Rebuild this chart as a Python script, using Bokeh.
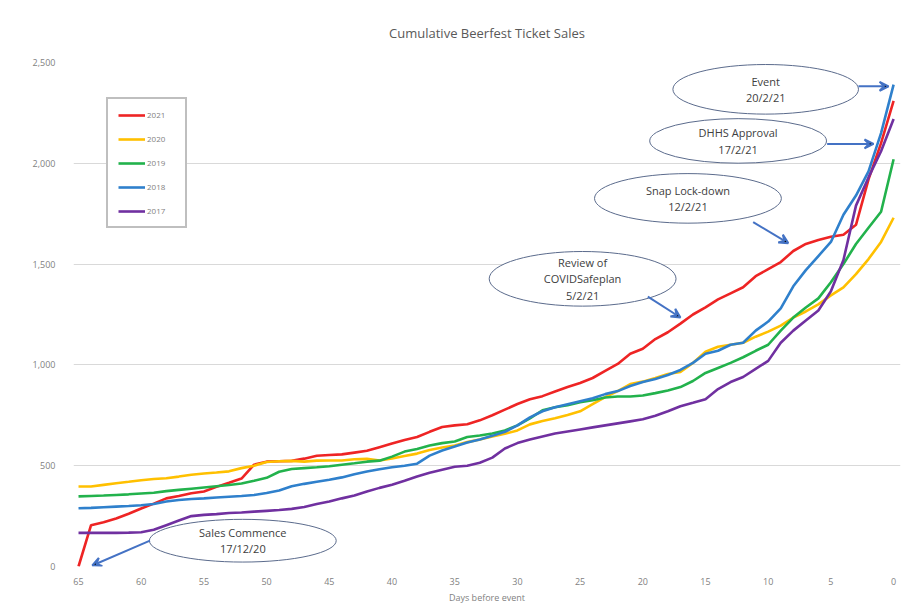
from bokeh.plotting import figure
from bokeh.models import Range1d, Legend, LegendItem, Arrow, VeeHead, FixedTicker, NumeralTickFormatter
from bokeh.core.properties import value
from bokeh.embed import file_html
from bokeh.resources import INLINE

days = list(range(65, -1, -1))

sales_2021 = [0, 205, 220, 238, 262, 288, 312, 338, 350, 363, 372, 395, 415, 436, 505, 520,
              522, 524, 535, 549, 553, 556, 565, 574, 592, 610, 628, 642, 668, 692, 700, 706,
              725, 750, 778, 806, 830, 845, 868, 890, 910, 935, 970, 1005, 1055, 1080, 1128,
              1162, 1205, 1250, 1285, 1325, 1355, 1385, 1440, 1475, 1510, 1565, 1600, 1620,
              1636, 1646, 1695, 1920, 2100, 2310]
sales_2020 = [397, 397, 405, 413, 420, 428, 434, 438, 446, 455, 461, 466, 472, 488, 500, 518,
              522, 524, 520, 525, 526, 526, 532, 534, 526, 536, 548, 560, 578, 590, 600, 617,
              630, 645, 658, 675, 705, 722, 735, 752, 770, 805, 840, 870, 905, 917, 935, 955,
              965, 1010, 1065, 1090, 1100, 1110, 1140, 1165, 1195, 1235, 1265, 1300, 1345,
              1385, 1450, 1525, 1610, 1730]
sales_2019 = [348, 350, 352, 355, 358, 362, 366, 374, 380, 386, 392, 398, 404, 412, 425, 440,
              470, 484, 488, 492, 497, 505, 512, 520, 525, 545, 570, 583, 600, 612, 620, 642,
              650, 660, 675, 700, 735, 775, 790, 800, 815, 825, 838, 843, 843, 848, 860, 873,
              890, 920, 960, 985, 1010, 1038, 1070, 1100, 1170, 1235, 1285, 1330, 1410, 1500,
              1600, 1680, 1760, 2020]
sales_2018 = [289, 291, 294, 297, 300, 304, 310, 322, 330, 335, 338, 342, 346, 350, 355, 365,
              377, 398, 410, 420, 430, 442, 458, 471, 482, 492, 500, 510, 550, 575, 595, 615,
              630, 648, 668, 700, 740, 770, 790, 805, 820, 835, 855, 870, 895, 915, 930, 950,
              975, 1010, 1055, 1070, 1100, 1110, 1170, 1215, 1280, 1390, 1470, 1540, 1610,
              1745, 1840, 1960, 2150, 2390]
sales_2017 = [167, 167, 167, 167, 168, 170, 182, 205, 228, 250, 256, 260, 265, 268, 272, 276,
              280, 286, 295, 310, 322, 338, 352, 372, 390, 405, 425, 446, 465, 480, 495, 500,
              515, 540, 585, 612, 630, 645, 660, 670, 680, 690, 700, 710, 720, 730, 748, 770,
              795, 812, 830, 880, 915, 940, 980, 1020, 1110, 1170, 1220, 1270, 1365, 1520,
              1790, 1930, 2060, 2220]

series_names = ["2021", "2020", "2019", "2018", "2017"]
series_values = [sales_2021, sales_2020, sales_2019, sales_2018, sales_2017]
series_colors = ["#EE2424", "#FFC000", "#22B24C", "#2F80CC", "#7030A0"]

x_ticks = [65, 60, 55, 50, 45, 40, 35, 30, 25, 20, 15, 10, 5, 0]
y_ticks = [0, 500, 1000, 1500, 2000, 2500]

# annotation callouts (day, tickets)
note_text = ["Event\n20/2/21", "DHHS Approval\n17/2/21", "Snap Lock-down\n12/2/21",
             "Review of\nCOVIDSafeplan\n5/2/21", "Sales Commence\n17/12/20"]
note_x = [10.2, 12.4, 16.4, 24.8, 51.9]
note_y = [2367, 2111, 1826, 1427, 128]
note_w = [14.8, 14.1, 14.9, 14.9, 14.9]
note_h = [246, 221, 246, 271, 212]
arrow_x0 = [2.8, 5.3, 11.2, 19.6, 59.3]
arrow_y0 = [2382, 2096, 1708, 1339, 128]
arrow_x1 = [0.4, 1.6, 8.4, 17.0, 63.9]
arrow_y1 = [2382, 2096, 1604, 1235, 5]

FONT = "Open Sans"
GREY = "#7f7f7f"

p = figure(width=910, height=606, output_backend="svg", toolbar_location=None,
           x_range=Range1d(65.4, -0.55), y_range=Range1d(0, 2500),
           min_border_left=73, min_border_right=10, min_border_top=61, min_border_bottom=37,
           title="Cumulative Beerfest Ticket Sales")
p.title.align = "center"
p.title.text_font = FONT
p.title.text_font_size = "13px"
p.title.text_font_style = "normal"
p.title.text_color = "#595959"
p.title.standoff = 42
p.outline_line_color = None
p.background_fill_color = "white"
p.border_fill_color = "white"

p.xgrid.grid_line_color = None
p.ygrid.grid_line_color = "#d9d9d9"
p.ygrid.grid_line_width = 1
p.ygrid.ticker = FixedTicker(ticks=y_ticks)

p.xaxis.ticker = FixedTicker(ticks=x_ticks)
p.yaxis.ticker = FixedTicker(ticks=y_ticks)
p.yaxis.formatter = NumeralTickFormatter(format="0,0")
for ax in (p.xaxis, p.yaxis):
    ax.axis_line_color = None
    ax.major_tick_line_color = None
    ax.minor_tick_line_color = None
    ax.major_label_text_font = FONT
    ax.major_label_text_font_size = "9px"
    ax.major_label_text_color = GREY
p.yaxis.major_label_standoff = 12
p.xaxis.major_label_standoff = 5
p.xaxis.axis_label = "Days before event"
p.xaxis.axis_label_text_font = FONT
p.xaxis.axis_label_text_font_size = "9px"
p.xaxis.axis_label_text_font_style = "normal"
p.xaxis.axis_label_text_color = GREY
p.xaxis.axis_label_standoff = 3

items = []
for name, vals, col in zip(series_names, series_values, series_colors):
    r = p.line(days, vals, line_color=col, line_width=2.6)
    items.append(LegendItem(label=name, renderers=[r]))

# callouts
p.ellipse(x=note_x, y=note_y, width=note_w, height=note_h,
          fill_color="white", line_color="#5B6B8C", line_width=1)
p.text(x=note_x, y=note_y, text=note_text, text_align="center", text_baseline="middle",
       text_font=value(FONT), text_font_size="11px", text_color="#404040",
       text_line_height=1.1)
for x0, y0, x1, y1 in zip(arrow_x0, arrow_y0, arrow_x1, arrow_y1):
    p.add_layout(Arrow(x_start=x0, y_start=y0, x_end=x1, y_end=y1,
                       line_color="#4472C4", line_width=2,
                       end=VeeHead(size=9, line_color="#4472C4", line_width=2)))

legend = Legend(items=items, location=(33, 338))
legend.label_text_font = FONT
legend.label_text_font_size = "8px"
legend.label_text_color = GREY
legend.glyph_width = 27
legend.glyph_height = 10
legend.label_height = 10
legend.label_width = 28
legend.label_standoff = 2
legend.spacing = 13
legend.padding = 10
legend.border_line_color = "#7f7f7f"
legend.border_line_width = 2
legend.background_fill_alpha = 1
p.add_layout(legend)

open("out.html", "w").write(file_html(p, INLINE))
